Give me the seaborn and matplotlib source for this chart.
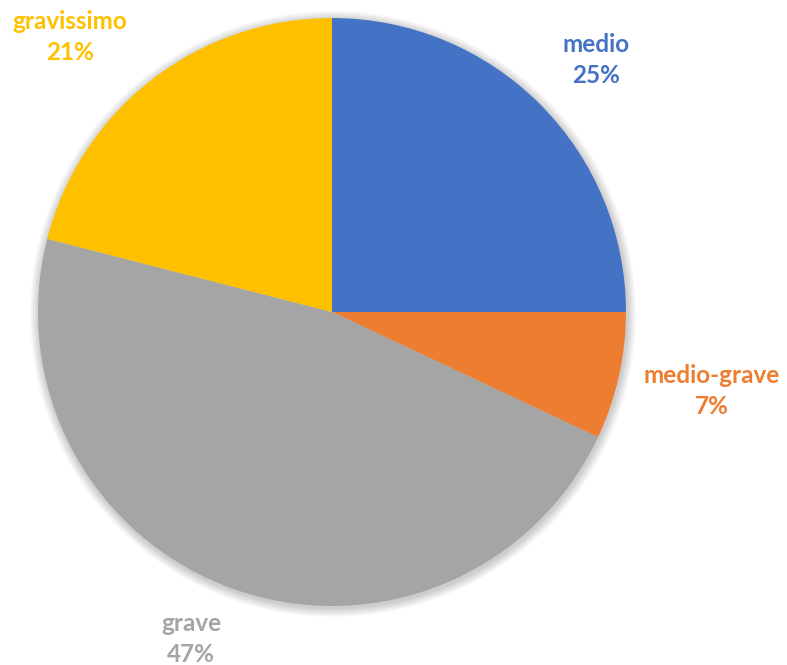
import matplotlib
matplotlib.use("Agg")
import matplotlib.pyplot as plt
from matplotlib.patches import Circle
import seaborn as sns

# Severity shares
categories = ["medio", "medio-grave", "grave", "gravissimo"]
shares = [25, 7, 47, 21]
slice_colors = ["#4472C4", "#ED7D31", "#A5A5A5", "#FFC000"]

sns.set_theme(style="white")
plt.rcParams["font.family"] = ["Lato", "DejaVu Sans"]

W, H = 787, 665
fig = plt.figure(figsize=(W / 100, H / 100), dpi=100)
ax = fig.add_axes([0, 0, 1, 1])

center = (332, H - 312)
radius = 294

# soft glow around the pie
for i in range(10):
    ax.add_patch(Circle((center[0] + 1, center[1] - 2), radius + 1 + i * 0.9,
                        facecolor="black", edgecolor="none", alpha=0.018, zorder=0))

wedges, _ = ax.pie(shares, colors=slice_colors, startangle=90, counterclock=False,
                   center=center, radius=radius, frame=True,
                   wedgeprops=dict(linewidth=0, zorder=2))
ax.set_xlim(0, W)
ax.set_ylim(0, H)
ax.set_aspect("equal")
ax.set_axis_off()

# label anchor points (pixel space from top-left)
label_pos = [(596, 60), (712, 391), (191, 639), (70, 37)]
for name, val, col, (lx, ly) in zip(categories, shares, slice_colors, label_pos):
    ax.text(lx, H - ly, f"{name}\n{val}%", color=col, fontsize=17.5, fontweight="bold",
            ha="center", va="center", linespacing=1.38, zorder=3)

fig.savefig("out.png", dpi=100)
